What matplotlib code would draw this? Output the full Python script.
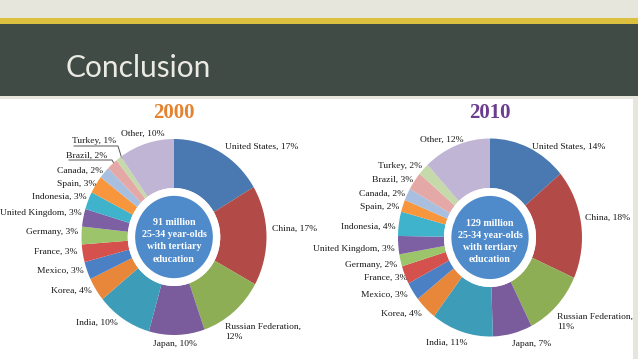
import matplotlib
matplotlib.use("Agg")
import matplotlib.pyplot as plt
from matplotlib.patches import Rectangle, Circle

W, H = 638, 359

# ---------------- data ----------------
countries = ["United States", "China", "Russian Federation", "Japan", "India",
             "Korea", "Mexico", "France", "Germany", "United Kingdom",
             "Indonesia", "Spain", "Canada", "Brazil", "Turkey", "Other"]
share_2000 = [17, 17, 12, 10, 10, 4, 3, 3, 3, 3, 3, 3, 2, 2, 1, 10]
share_2010 = [14, 18, 11, 7, 11, 4, 3, 3, 2, 3, 4, 2, 2, 3, 2, 12]
years = ["2000", "2010"]
totals = ["91 million", "129 million"]
center_caption = "25-34 year-olds\nwith tertiary\neducation"
slide_title = "Conclusion"

# ---------------- style / layout ----------------
colors = ["#4a79b2", "#b24a47", "#8dae55", "#7a5b9b", "#3d9db9",
          "#e8873a", "#4b80c4", "#d4514d", "#9cc46a", "#7d60a4",
          "#3fb2cc", "#f7963c", "#a9bfe0", "#e4a9a7", "#c6d9aa", "#c1b5d5"]
year_colors = ["#e5822e", "#6b3d8e"]

# pie geometry in pixels: centre x, centre y, radius x, radius y
pie_geom = [(174, 237, 92.5, 98), (490, 237.5, 92, 99)]

# label layout (pixel anchor x, y, alignment) in order of countries
label_layout = [
    [(225, 147, "left"), (272, 229, "left"), (225, 332, "left"), (153, 344, "left"),
     (118, 323, "right"), (92, 291, "right"), (84, 271, "right"), (78, 252, "right"),
     (78, 232, "right"), (82, 213, "right"), (87, 197, "right"), (96, 184, "right"),
     (103, 171, "right"), (107, 156, "right"), (116, 141, "right"), (165, 134, "right")],
    [(532, 147, "left"), (585, 218, "left"), (557, 322, "left"), (512, 344, "left"),
     (468, 343, "right"), (422, 314, "right"), (408, 295, "right"), (408, 278, "right"),
     (397, 265, "right"), (395, 249, "right"), (396, 227, "right"), (399, 207, "right"),
     (405, 194, "right"), (413, 180, "right"), (422, 166, "right"), (464, 140, "right")],
]
# leader lines (2000 only) for Turkey and Brazil: underline + pointer
leaders = [[(74, 146), (118, 146), (122, 159)], [(69, 160), (112, 160), (116, 167)]]

serif = ["Liberation Serif", "DejaVu Serif"]

fig = plt.figure(figsize=(W / 100, H / 100), dpi=100)

# background axes in pixel coordinates
bg = fig.add_axes([0, 0, 1, 1], zorder=0)
bg.set_xlim(0, W)
bg.set_ylim(H, 0)
bg.axis("off")
bg.add_patch(Rectangle((0, 0), W, H, color="#e6e6dd", lw=0))
bg.add_patch(Rectangle((0, 18), W, 6, color="#dcbf3f", lw=0))
bg.add_patch(Rectangle((0, 24), W, 71.5, color="#414b46", lw=0))
bg.add_patch(Rectangle((0, 99), 633, H - 99, color="#ffffff", lw=0))
bg.text(66, 77, slide_title, fontsize=21.5, color="#ebebe3",
        family=["Lato", "DejaVu Sans"], va="baseline", ha="left")

K = 1.0
for i, (values, (cx, cy, rx, ry)) in enumerate(zip([share_2000, share_2010], pie_geom)):
    ax = fig.add_axes([(cx - rx * K) / W, (H - (cy + ry * K)) / H,
                       2 * rx * K / W, 2 * ry * K / H], zorder=1)
    ax.axis("off")
    ax.pie(values, colors=colors, startangle=90, counterclock=False, radius=1,
           wedgeprops=dict(width=0.5, edgecolor="none"))
    ax.set_xlim(-K, K)
    ax.set_ylim(-K, K)
    ax.set_aspect("auto")
    ax.add_patch(Circle((0, 0), 0.5, color="white", lw=0))
    ax.add_patch(Circle((0, 0), 0.42, color="#4f8bcb", lw=0))
    ax.text(0, -0.04, totals[i] + "\n" + center_caption, color="white",
            fontsize=7.2, fontweight="bold", family=serif, ha="center",
            va="center", linespacing=1.45)

    # year title
    bg.text(cx, 113, years[i], color=year_colors[i], fontsize=15,
            fontweight="bold", family=serif, ha="center", va="center")
    # labels
    for name, v, (lx, ly, ha) in zip(countries, values, label_layout[i]):
        if name == "Russian Federation":
            txt = f"{name},\n{v}%"
        else:
            txt = f"{name}, {v}%"
        bg.text(lx, ly, txt, fontsize=6.8, family=serif, color="#1a1a1a",
                ha=ha, va="center", linespacing=1.3)

for pts in leaders:
    xs, ys = zip(*pts)
    bg.plot(xs, ys, color="#555555", lw=0.7)

fig.savefig("out.png", dpi=100)
